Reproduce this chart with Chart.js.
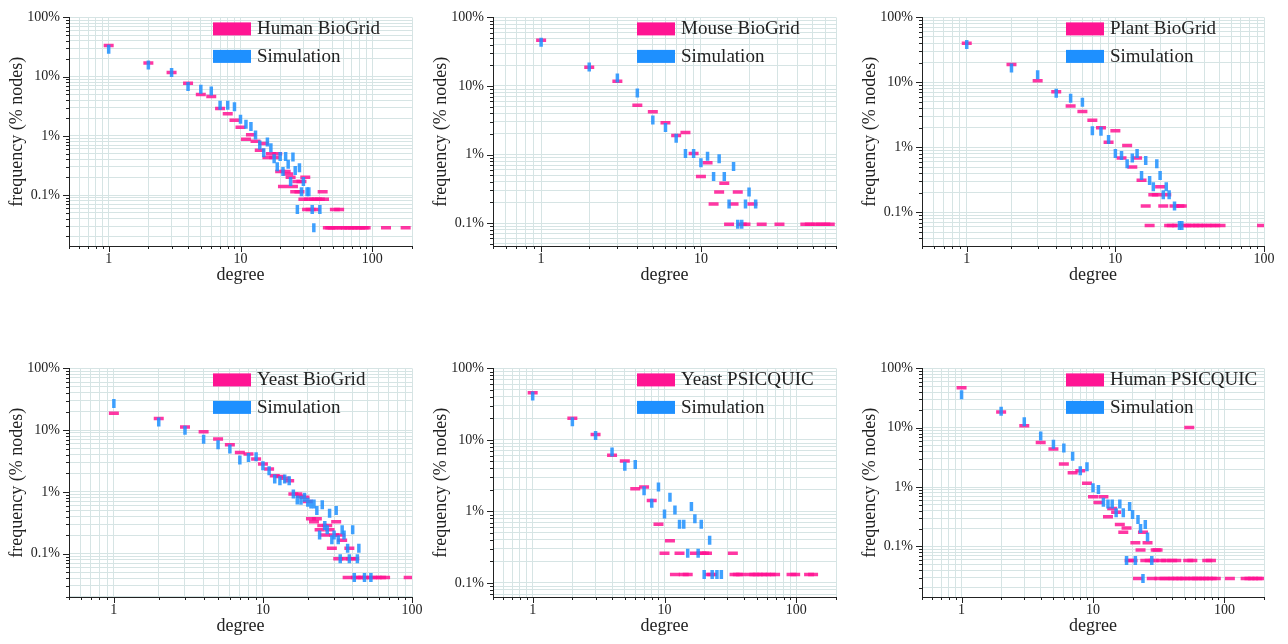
<!DOCTYPE html>
<html>
<head>
<meta charset="utf-8">
<title>Degree distributions vs simulation</title>
<script src="https://cdn.jsdelivr.net/npm/chart.js@4.4.1/dist/chart.umd.min.js"></script>
<style>
  html, body { margin: 0; padding: 0; background: #fff; }
  #wrap { position: relative; width: 1288px; height: 644px; overflow: hidden; }
  #wrap canvas { position: absolute; }
</style>
</head>
<body>
<div id="wrap"></div>
<script>
// [degree, frequency in %]
const humanBioGrid = [[1,33.4],[2,17],[3,11.7],[4,7.7],[5,5.0],[6,4.6],[7,2.9],[8,2.37],[9,1.83],[10,1.40],
  [11,0.88],[12,1.04],[13,0.81],[14,0.57],[15,0.74],[16,0.43],[17,0.50],[18,0.43],[19,0.50],[20,0.25],
  [21,0.14],[22,0.25],[23,0.227],[24,0.20],[25,0.14],[26,0.114],[27,0.17],[28,0.114],[29,0.17],[30,0.085],
  [31,0.2],[32,0.057],[33,0.085],[34,0.057],[36,0.085],[37,0.057],[38,0.085],[40,0.085],[42,0.114],[43,0.085],
  [46,0.028],[48,0.028],[50,0.028],[52,0.057],[54,0.028],[56,0.057],[59,0.028],[63,0.028],[67,0.028],[71,0.028],
  [76,0.028],[81,0.028],[86,0.028],[89,0.028],[127,0.028],[179,0.028]];
const humanBioGridSim = [[1,29],[2,15.7],[3,11.7],[4,6.8],[5,6.1],[6,5.7],[7,3.3],[8,3.3],[9,3.1],[10,1.9],
  [11,1.57],[12,1.44],[13,1.03],[14,0.70],[15,0.52],[16,0.79],[17,0.63],[18,0.41],[19,0.30],[20,0.45],
  [21,0.25],[22,0.45],[23,0.33],[24,0.17],[25,0.44],[26,0.26],[27,0.057],[28,0.29],[29,0.114],[30,0.17],
  [32,0.114],[33,0.114],[35,0.057],[36,0.028],[40,0.057]];

const mouseBioGrid = [[1,46.4],[2,18.7],[3,11.7],[4,5.25],[5,4.2],[6,2.9],[7,1.9],[8,2.1],[9,1.04],[10,0.48],
  [11,0.757],[12,0.19],[13,0.285],[14,0.38],[15,0.096],[16,0.19],[17,0.285],[18,0.096],[19,0.096],[21,0.19],
  [24,0.096],[31,0.096],[45,0.096],[48,0.096],[52,0.096],[56,0.096],[60,0.096],[64,0.096]];
const mouseBioGridSim = [[1,43.5],[2,18.9],[3,13.1],[4,7.9],[5,3.18],[6,2.49],[7,1.73],[8,1.04],[9,1.04],[10,0.757],
  [11,0.946],[12,0.48],[13,0.865],[14,0.48],[15,0.19],[16,0.67],[17,0.096],[18,0.096],[19,0.19],[20,0.285],[22,0.19]];

const plantBioGrid = [[1,40],[2,18.9],[3,10.6],[4,7.2],[5,4.35],[6,3.56],[7,2.63],[8,2.01],[9,1.2],[10,1.81],
  [11,0.69],[12,1.07],[13,0.50],[14,0.69],[15,0.314],[16,0.126],[17,0.063],[18,0.188],[19,0.188],[20,0.249],
  [21,0.126],[22,0.188],[23,0.063],[24,0.063],[25,0.126],[26,0.063],[27,0.126],[28,0.126],[29,0.063],[30,0.063],
  [32,0.063],[34,0.063],[36,0.063],[38,0.063],[41,0.063],[44,0.063],[47,0.063],[51,0.063],[97,0.063]];
const plantBioGridSim = [[1,38.2],[2,16.6],[3,13.1],[4,6.8],[5,5.7],[6,4.95],[7,1.81],[8,1.78],[9,1.32],[10,0.81],
  [11,0.75],[12,0.56],[13,0.69],[14,0.81],[15,0.37],[16,0.63],[17,0.31],[18,0.249],[19,0.56],[20,0.37],
  [21,0.188],[22,0.249],[23,0.188],[25,0.126],[27,0.063],[28,0.063]];

const yeastBioGrid = [[1,18.8],[2,15.4],[3,11.2],[4,9.4],[5,7.2],[6,5.8],[7,4.35],[8,4.1],[9,3.4],[10,2.83],
  [11,2.35],[12,1.83],[13,1.77],[14,1.66],[15,1.52],[16,0.93],[17,0.93],[18,0.85],[19,0.82],[20,0.70],
  [21,0.367],[22,0.33],[23,0.367],[24,0.244],[25,0.286],[26,0.20],[27,0.286],[28,0.244],[29,0.123],[30,0.20],
  [31,0.33],[32,0.083],[33,0.20],[34,0.165],[35,0.083],[37,0.041],[38,0.123],[39,0.083],[41,0.083],[42,0.041],
  [44,0.041],[47,0.041],[50,0.041],[54,0.041],[58,0.041],[62,0.041],[66,0.041],[95,0.041]];
const yeastBioGridSim = [[1,26.9],[2,13.5],[3,10],[4,7.1],[5,5.8],[6,4.94],[7,3.3],[8,3.6],[9,3.7],[10,2.66],
  [11,2.2],[12,1.62],[13,1.52],[14,1.62],[15,1.52],[16,0.93],[17,0.74],[18,0.73],[19,0.82],[20,0.68],
  [21,0.64],[22,0.64],[23,0.50],[24,0.20],[25,0.62],[26,0.286],[27,0.244],[28,0.45],[29,0.168],[30,0.20],
  [31,0.50],[32,0.168],[33,0.083],[34,0.244],[35,0.20],[37,0.123],[38,0.083],[40,0.244],[41,0.041],[43,0.083],
  [44,0.123],[48,0.041],[53,0.041]];

const yeastPsicquic = [[1,45.7],[2,20.1],[3,11.9],[4,6.1],[5,5.07],[6,2.08],[7,2.2],[8,1.42],[9,0.66],[10,0.26],
  [11,0.39],[12,0.131],[13,0.26],[14,0.131],[15,0.131],[17,0.26],[19,0.26],[20,0.26],[21,0.26],[22,0.131],
  [23,0.131],[33,0.26],[34,0.131],[36,0.131],[38,0.131],[45,0.131],[48,0.131],[51,0.131],[55,0.131],[59,0.131],
  [64,0.131],[69,0.131],[92,0.131],[98,0.131],[125,0.131],[134,0.131]];
const yeastPsicquicSim = [[1,41],[2,17.9],[3,11.5],[4,6.8],[5,4.3],[6,4.54],[7,1.95],[8,1.3],[9,2.2],[10,0.92],
  [11,1.58],[12,1.05],[13,0.66],[14,0.66],[15,0.26],[16,1.17],[17,0.79],[18,0.26],[19,0.66],[20,0.131],
  [22,0.394],[23,0.131],[25,0.131],[27,0.131]];

const humanPsicquic = [[1,47.3],[2,18.5],[3,10.8],[4,5.65],[5,4.4],[6,2.45],[7,1.75],[8,1.88],[9,1.16],[10,0.69],
  [11,0.55],[12,0.69],[13,0.316],[14,0.436],[15,0.378],[16,0.234],[17,0.173],[18,0.204],[19,0.058],[20,0.058],
  [21,0.116],[22,0.029],[23,0.087],[24,0.173],[25,0.058],[26,0.116],[27,0.058],[28,0.029],[29,0.058],[30,0.087],
  [31,0.087],[32,0.029],[33,0.058],[35,0.029],[36,0.058],[38,0.029],[40,0.058],[41,0.029],[43,0.058],[44,0.029],
  [47,0.029],[50,0.029],[53,0.058],[54,10.1],[55,0.029],[57,0.058],[58,0.029],[62,0.029],[66,0.029],[70,0.029],
  [74,0.058],[75,0.029],[79,0.058],[80,0.029],[86,0.029],[110,0.029],[145,0.029],[155,0.029],[165,0.029],
  [178,0.029],[190,0.029]];
const humanPsicquicSim = [[1,36],[2,19],[3,12.6],[4,7.3],[5,5.3],[6,4.56],[7,3.3],[8,1.88],[9,2.2],[10,0.98],
  [11,0.91],[12,0.556],[13,0.52],[14,0.52],[15,0.37],[16,0.52],[17,0.37],[18,0.058],[19,0.47],[20,0.347],
  [21,0.058],[22,0.284],[23,0.2],[24,0.029],[25,0.234],[26,0.144],[28,0.058]];

const networkNames = ['Human BioGrid', 'Mouse BioGrid', 'Plant BioGrid', 'Yeast BioGrid', 'Yeast PSICQUIC', 'Human PSICQUIC'];
const realSeries = [humanBioGrid, mouseBioGrid, plantBioGrid, yeastBioGrid, yeastPsicquic, humanPsicquic];
const simSeries = [humanBioGridSim, mouseBioGridSim, plantBioGridSim, yeastBioGridSim, yeastPsicquicSim, humanPsicquicSim];
const simLabel = 'Simulation';

// axis ranges
const degreeMin = 0.5;
const degreeMax = [200, 70, 100, 100, 200, 200];
const freqMin = [0.0138, 0.0464, 0.0305, 0.0199, 0.0636, 0.0141];
const freqMax = 100;

const FONT = '"Liberation Serif", "DejaVu Serif", serif';
const INK = '#222';
const PINK = '#ff1493';
const BLUE = '#1e90ff';

// panel geometry: left edge of plot area per column, right end, top per row
const colAxis = [69, 493, 922];
const colRight = [412, 836, 1264];
const rowTop = [0, 351];

function logTicks(min, max) {
  const out = [];
  for (let e = Math.floor(Math.log10(min)); e <= Math.ceil(Math.log10(max)); e++) {
    for (let m = 1; m <= 9; m++) {
      const v = m * Math.pow(10, e);
      if (v >= min * 0.9999 && v <= max * 1.0001) out.push({ value: v });
    }
  }
  return out;
}

function isDecade(v) {
  const l = Math.log10(v);
  return Math.abs(l - Math.round(l)) < 1e-6;
}

// short tick marks outside the axes, longer at decades
const tickMarks = {
  id: 'tickMarks',
  afterDraw(chart) {
    const ctx = chart.ctx;
    const xs = chart.scales.x, ys = chart.scales.y;
    ctx.save();
    ctx.strokeStyle = INK;
    ctx.lineWidth = 1;
    ctx.beginPath();
    xs.ticks.forEach(t => {
      const px = Math.round(xs.getPixelForValue(t.value)) + 0.5;
      const len = isDecade(t.value) ? 6 : 3;
      ctx.moveTo(px, xs.top);
      ctx.lineTo(px, xs.top + len);
    });
    ys.ticks.forEach(t => {
      const py = Math.round(ys.getPixelForValue(t.value)) + 0.5;
      const len = isDecade(t.value) ? 6 : 3;
      ctx.moveTo(ys.right - len, py);
      ctx.lineTo(ys.right, py);
    });
    ctx.stroke();
    ctx.restore();
  }
};

// legend boxes inside the plot, top right
const boxLegend = {
  id: 'boxLegend',
  afterDraw(chart) {
    const { ctx, chartArea } = chart;
    ctx.save();
    chart.data.datasets.forEach((ds, i) => {
      const bx = chartArea.left + 144;
      const by = chartArea.top + 5 + i * 27.5;
      ctx.fillStyle = ds.legendColor;
      ctx.fillRect(bx, by, 38, 13);
      ctx.fillStyle = INK;
      ctx.font = '19px ' + FONT;
      ctx.textBaseline = 'middle';
      ctx.textAlign = 'left';
      ctx.fillText(ds.label, bx + 44, by + 7);
    });
    ctx.restore();
  }
};

function toPoints(series) {
  return series.map(p => ({ x: p[0], y: p[1] }));
}

function makePanel(i) {
  const col = i % 3, row = Math.floor(i / 3);
  const left = colAxis[col] - 69;
  const width = colRight[col] - left + 24;
  const height = 286;

  const canvas = document.createElement('canvas');
  canvas.width = width;
  canvas.height = height;
  canvas.style.left = left + 'px';
  canvas.style.top = rowTop[row] + 'px';
  document.getElementById('wrap').appendChild(canvas);

  const gridOpts = { color: '#d6e4e4', lineWidth: 1, drawTicks: false };
  const borderOpts = { display: true, color: INK, width: 1 };

  new Chart(canvas.getContext('2d'), {
    type: 'scatter',
    data: {
      datasets: [
        {
          label: networkNames[i],
          data: toPoints(realSeries[i]),
          legendColor: PINK,
          pointStyle: 'line',
          pointRadius: 5,
          pointBorderWidth: 3.5,
          pointBorderColor: 'rgba(255, 20, 147, 0.85)',
          pointBackgroundColor: 'rgba(255, 20, 147, 0.85)',
          order: 2
        },
        {
          label: simLabel,
          data: toPoints(simSeries[i]),
          legendColor: BLUE,
          pointStyle: 'line',
          pointRotation: 90,
          pointRadius: 4.5,
          pointBorderWidth: 3.5,
          pointBorderColor: 'rgba(30, 144, 255, 0.85)',
          pointBackgroundColor: 'rgba(30, 144, 255, 0.85)',
          order: 1
        }
      ]
    },
    options: {
      responsive: false,
      animation: false,
      events: [],
      layout: { padding: { top: 16, right: 24, left: 0, bottom: 0 } },
      plugins: { legend: { display: false }, tooltip: { enabled: false } },
      scales: {
        x: {
          type: 'logarithmic',
          min: degreeMin,
          max: degreeMax[i],
          grid: gridOpts,
          border: borderOpts,
          afterBuildTicks: s => { s.ticks = logTicks(s.min, s.max); },
          afterFit: s => { s.height = 40; },
          ticks: {
            autoSkip: false,
            maxRotation: 0,
            padding: 5,
            color: INK,
            font: { family: FONT, size: 14 },
            callback: v => isDecade(v) ? String(Math.round(v)) : ''
          },
          title: {
            display: true,
            text: 'degree',
            color: INK,
            font: { family: FONT, size: 18 },
            padding: 0
          }
        },
        y: {
          type: 'logarithmic',
          min: freqMin[i],
          max: freqMax,
          grid: gridOpts,
          border: borderOpts,
          afterBuildTicks: s => { s.ticks = logTicks(s.min, s.max); },
          afterFit: s => { s.width = 69; },
          ticks: {
            autoSkip: false,
            padding: 9,
            color: INK,
            font: { family: FONT, size: 14 },
            callback: v => isDecade(v) ? Math.pow(10, Math.round(Math.log10(v))) + '%' : ''
          },
          title: {
            display: true,
            text: 'frequency (% nodes)',
            color: INK,
            font: { family: FONT, size: 18 },
            padding: { top: 6, bottom: 0 }
          }
        }
      }
    },
    plugins: [tickMarks, boxLegend]
  });
}

for (let i = 0; i < 6; i++) makePanel(i);
</script>
</body>
</html>
